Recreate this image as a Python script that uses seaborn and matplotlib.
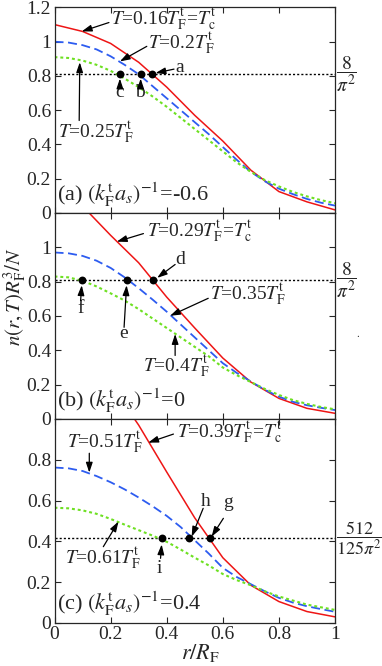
import numpy as np
import pandas as pd
import matplotlib
matplotlib.use("Agg")
import matplotlib.pyplot as plt
import seaborn as sns

# ===================== DATA =====================
r_coarse = [0.0, 0.1, 0.2, 0.3, 0.4, 0.5, 0.6, 0.7, 0.8, 0.9, 1.0]
r_fine = [0.0, 0.05, 0.1, 0.15, 0.2, 0.25, 0.3, 0.35, 0.4, 0.45, 0.5,
          0.55, 0.6, 0.65, 0.7, 0.75, 0.8, 0.85, 0.9, 0.95, 1.0]

# panel (a): (kF a_s)^-1 = -0.6
a_red = [1.10, 1.06, 0.99, 0.88, 0.735, 0.57, 0.42, 0.25, 0.125, 0.065, 0.018]
a_blue = [1.0, 0.995, 0.98, 0.955, 0.915, 0.865, 0.81, 0.74, 0.67, 0.60, 0.53,
          0.46, 0.385, 0.31, 0.24, 0.185, 0.142, 0.11, 0.082, 0.06, 0.043]
a_green = [0.91, 0.905, 0.89, 0.865, 0.83, 0.785, 0.735, 0.68, 0.62, 0.555, 0.49,
           0.425, 0.36, 0.295, 0.24, 0.192, 0.155, 0.123, 0.097, 0.075, 0.057]

# panel (b): (kF a_s)^-1 = 0
b_red = [1.36, 1.24, 1.07, 0.91, 0.71, 0.53, 0.355, 0.215, 0.12, 0.062, 0.033]
b_blue = [0.97, 0.965, 0.95, 0.922, 0.88, 0.825, 0.762, 0.695, 0.625, 0.55, 0.475,
          0.4, 0.325, 0.268, 0.218, 0.17, 0.13, 0.1, 0.08, 0.065, 0.052]
b_green = [0.83, 0.825, 0.805, 0.772, 0.732, 0.69, 0.64, 0.585, 0.53, 0.475, 0.42,
           0.365, 0.3, 0.255, 0.215, 0.175, 0.14, 0.11, 0.088, 0.07, 0.056]

# panel (c): (kF a_s)^-1 = 0.4
c_red = [1.40, 1.32, 1.17, 0.97, 0.74, 0.515, 0.32, 0.185, 0.105, 0.056, 0.03]
c_blue = [0.762, 0.758, 0.745, 0.72, 0.69, 0.655, 0.615, 0.572, 0.525, 0.47, 0.405,
          0.34, 0.27, 0.225, 0.19, 0.155, 0.123, 0.1, 0.082, 0.068, 0.055]
c_green = [0.565, 0.562, 0.552, 0.535, 0.51, 0.482, 0.455, 0.428, 0.398, 0.36, 0.32,
           0.282, 0.24, 0.21, 0.185, 0.155, 0.13, 0.11, 0.09, 0.077, 0.064]

# marked crossing points (r values) and the reference levels
pts_a = [0.346, 0.307, 0.233]
pts_b = [0.352, 0.257, 0.097]
pts_c = [0.554, 0.481, 0.382]
level_ab = 8 / np.pi**2
level_c = 512 / (125 * np.pi**2)

# ===================== STYLE =====================
sns.set_style("ticks")
plt.rcParams["font.family"] = ["Liberation Serif", "DejaVu Serif"]
plt.rcParams["mathtext.fontset"] = "stix"
plt.rcParams["xtick.direction"] = "in"
plt.rcParams["ytick.direction"] = "in"
plt.rcParams["xtick.major.pad"] = 2
plt.rcParams["ytick.major.pad"] = 2.5

RED, BLUE, GREEN = "#ee1515", "#2d5cf0", "#6ee022"
FS_TICK, FS_ANN, FS_LAB = 14, 14, 16

fig = plt.figure(figsize=(3.82, 6.66), dpi=100)
ax_a = fig.add_axes([0.1427, 0.6802, 0.7343, 0.3086])
ax_b = fig.add_axes([0.1427, 0.3709, 0.7343, 0.3093])
ax_c = fig.add_axes([0.1427, 0.0646, 0.7343, 0.3063])


def draw_panel(ax, red, blue, green, pts, level, ymax, yticks, ylabels):
    sns.lineplot(x=r_coarse, y=red, ax=ax, color=RED, lw=1.1, errorbar=None)
    sns.lineplot(x=r_fine, y=blue, ax=ax, color=BLUE, lw=1.3,
                 linestyle=(0, (5, 2.5)), errorbar=None)
    sns.lineplot(x=r_fine, y=green, ax=ax, color=GREEN, lw=1.5,
                 linestyle=(0, (1.4, 1.4)), errorbar=None)
    ax.axhline(level, color="k", lw=1.0, linestyle=(0, (1.5, 1.5)), zorder=1)
    sns.scatterplot(x=pts, y=[level] * len(pts), ax=ax, color="k", s=32,
                    edgecolor="k", linewidth=0, zorder=5)
    ax.set_xlim(0, 1)
    ax.set_ylim(0, ymax)
    ax.set_xticks([0, 0.2, 0.4, 0.6, 0.8, 1.0])
    ax.set_yticks(yticks)
    ax.set_yticklabels(ylabels, fontsize=FS_TICK)
    ax.tick_params(top=True, right=True, length=4, width=0.8)
    for s in ax.spines.values():
        s.set_linewidth(0.9)
    ax.set_xlabel("")
    ax.set_ylabel("")


def arrow(ax, tail, head):
    ax.annotate("", xy=head, xytext=tail,
                arrowprops=dict(arrowstyle="-|>,head_length=0.6,head_width=0.2",
                                color="k", lw=0.9, shrinkA=0, shrinkB=0))


yt12 = [0, 0.2, 0.4, 0.6, 0.8, 1.0, 1.2]
draw_panel(ax_a, a_red, a_blue, a_green, pts_a, level_ab, 1.2, yt12,
           ["0", "0.2", "0.4", "0.6", "0.8", "1", "1.2"])
draw_panel(ax_b, b_red, b_blue, b_green, pts_b, level_ab, 1.2, yt12,
           ["0", "0.2", "0.4", "0.6", "0.8", "1", ""])
draw_panel(ax_c, c_red, c_blue, c_green, pts_c, level_c, 1.0,
           [0, 0.2, 0.4, 0.6, 0.8, 1.0], ["0", "0.2", "0.4", "0.6", "0.8", ""])

ax_a.set_xticklabels([])
ax_b.set_xticklabels([])
ax_c.set_xticklabels(["0", "0.2", "0.4", "0.6", "0.8", "1"], fontsize=FS_TICK)

TF = r"$T_{\rm F}^{\rm t}$"
Tc = r"$T_{\rm c}^{\rm t}$"
KA = r"$(k_{\rm F}^{\rm t}a_s)^{-1}$"

# ---- panel (a)
ax_a.text(0.2, 1.125, r"$T$=0.16" + TF + "=" + Tc, fontsize=FS_ANN, va="center")
arrow(ax_a, (0.194, 1.112), (0.097, 1.06))
ax_a.text(0.334, 0.985, r"$T$=0.2" + TF, fontsize=FS_ANN, va="center")
arrow(ax_a, (0.329, 0.973), (0.233, 0.885))
ax_a.text(0.012, 0.465, r"$T$=0.25" + TF, fontsize=FS_ANN, va="center")
arrow(ax_a, (0.088, 0.54), (0.09, 0.88))
ax_a.text(0.448, 0.852, "a", fontsize=FS_ANN, va="center", ha="center")
arrow(ax_a, (0.426, 0.84), (0.36, 0.817))
ax_a.text(0.305, 0.675, "b", fontsize=FS_ANN, va="baseline", ha="center")
arrow(ax_a, (0.307, 0.73), (0.307, 0.785))
ax_a.text(0.233, 0.68, "c", fontsize=FS_ANN, va="baseline", ha="center")
arrow(ax_a, (0.233, 0.74), (0.233, 0.785))
ax_a.text(0.01, 0.025, "(a) " + KA + "=-0.6", fontsize=FS_LAB, va="bottom")
ax_a.text(1.005, level_ab, r"$\dfrac{8}{\pi^2}$", fontsize=14, va="center",
          ha="left", transform=ax_a.get_yaxis_transform(), clip_on=False)

# ---- panel (b)
ax_b.text(0.329, 1.09, r"$T$=0.29" + TF + "=" + Tc, fontsize=FS_ANN, va="center")
arrow(ax_b, (0.317, 1.08), (0.222, 1.033))
ax_b.text(0.447, 0.929, "d", fontsize=FS_ANN, va="center", ha="center")
arrow(ax_b, (0.43, 0.9), (0.366, 0.822))
ax_b.text(0.554, 0.723, r"$T$=0.35" + TF, fontsize=FS_ANN, va="center")
arrow(ax_b, (0.548, 0.703), (0.412, 0.601))
ax_b.text(0.317, 0.302, r"$T$=0.4" + TF, fontsize=FS_ANN, va="center")
arrow(ax_b, (0.43, 0.37), (0.43, 0.495))
ax_b.text(0.245, 0.47, "e", fontsize=FS_ANN, va="baseline", ha="center")
arrow(ax_b, (0.248, 0.534), (0.257, 0.779))
ax_b.text(0.093, 0.62, "f", fontsize=FS_ANN, va="baseline", ha="center")
arrow(ax_b, (0.093, 0.688), (0.097, 0.779))
ax_b.text(0.01, 0.025, "(b) " + KA + "=0", fontsize=FS_LAB, va="bottom")
ax_b.text(1.005, level_ab, r"$\dfrac{8}{\pi^2}$", fontsize=14, va="center",
          ha="left", transform=ax_b.get_yaxis_transform(), clip_on=False)

# ---- panel (c)
ax_c.text(0.436, 0.933, r"$T$=0.39" + TF + "=" + Tc, fontsize=FS_ANN, va="center")
arrow(ax_c, (0.424, 0.926), (0.334, 0.884))
ax_c.text(0.043, 0.881, r"$T$=0.51" + TF, fontsize=FS_ANN, va="center")
arrow(ax_c, (0.124, 0.832), (0.124, 0.737))
ax_c.text(0.037, 0.312, r"$T$=0.61" + TF, fontsize=FS_ANN, va="center")
arrow(ax_c, (0.174, 0.374), (0.228, 0.497))
ax_c.text(0.539, 0.574, "h", fontsize=FS_ANN, va="baseline", ha="center")
arrow(ax_c, (0.53, 0.562), (0.489, 0.423))
ax_c.text(0.62, 0.57, "g", fontsize=FS_ANN, va="baseline", ha="center")
arrow(ax_c, (0.602, 0.513), (0.56, 0.423))
ax_c.text(0.373, 0.247, "i", fontsize=FS_ANN, va="baseline", ha="center")
arrow(ax_c, (0.378, 0.317), (0.382, 0.385))
ax_c.text(0.01, 0.025, "(c) " + KA + "=0.4", fontsize=FS_LAB, va="bottom")
ax_c.text(1.005, level_c, r"$\dfrac{512}{125\pi^2}$", fontsize=13, va="center",
          ha="left", transform=ax_c.get_yaxis_transform(), clip_on=False)

# ---- axis labels
fig.text(0.037, 0.555, r"$n(r,T)R_{\rm F}^3/N$", rotation=90, fontsize=15,
         ha="center", va="center")
fig.text(0.524, 0.019, r"$r/R_{\rm F}$", fontsize=16, ha="center", va="center")
fig.text(0.937, 0.497, ".", fontsize=8, ha="center", va="center")

fig.savefig("out.png", dpi=100)
